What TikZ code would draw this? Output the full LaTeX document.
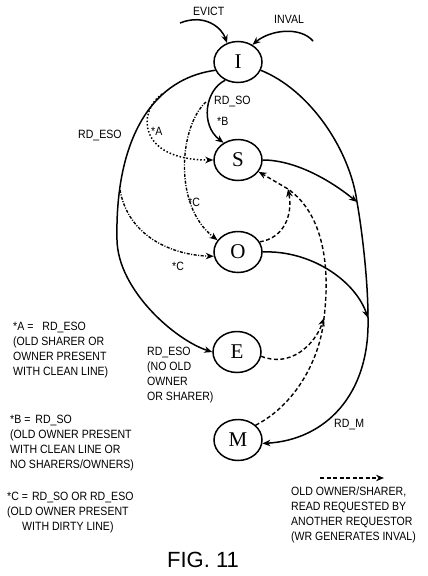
\documentclass[tikz,border=0pt]{standalone}
\usepackage{fontspec}
\usetikzlibrary{shapes, arrows.meta}
\setmainfont{Liberation Sans}
\newfontfamily\lblfont{Liberation Sans}[FakeStretch=0.88]
\newfontfamily\stfont{Liberation Serif}

\begin{document}
\begin{tikzpicture}[
    x=1pt, y=-1pt, >={Stealth[length=8pt, width=6.5pt]},
    cstate/.style={ellipse, draw=black, line width=1.5pt, fill=none,
        minimum width=48pt, minimum height=41pt, inner sep=0pt,
        text centered, text=black, font=\stfont\fontsize{21}{21}\selectfont},
    note/.style={draw=none, fill=none, anchor=north west, align=left, inner sep=0pt,
        text=black, font=\lblfont\fontsize{12}{15}\selectfont},
    move/.style={->, line width=1.5pt},
    old/.style={->, line width=1.4pt, dash pattern=on 4pt off 2.5pt},
    alt/.style={->, line width=1.5pt, dotted},
    dirty/.style={->, line width=1.4pt, dash pattern=on 3pt off 1.5pt on 1pt off 1.5pt}
]
\useasboundingbox (0,0) rectangle (428,576);

\node (StI) [cstate] at (238,62) {I};
\node (StS) [cstate] at (238,160) {S};
\node (StO) [cstate] at (238,252) {O};
\node (StE) [cstate] at (237,352) {E};
\node (StM) [cstate] at (238,440) {M};

\coordinate (Ev) at (180,23);
\coordinate (Inv) at (313,41);
\coordinate (J01) at (357,202);
\coordinate (J02) at (368,318);
\coordinate (J03) at (288,189);
\coordinate (J04) at (324,318);
\coordinate (J05) at (162,94);
\coordinate (J06) at (206,102);
\coordinate (J07) at (120,190);
\coordinate (K01) at (320,478);
\coordinate (K02) at (384,478);

% solid transitions
\draw [move] (Ev) .. controls (205,13) and (222,28) .. (StI.120);
\draw [move] (Inv) .. controls (300,26) and (270,30) .. (StI.50);
\draw [move] (StI.235) .. controls (205,90) and (200,125) .. (StS.130);
\draw [move] (StI.200) .. controls (145,80) and (115,150) .. (117,240)
    .. controls (118,290) and (175,340) .. (StE.west);
\draw [move] (StI.340) .. controls (310,90) and (350,150) .. (J01)
    .. controls (362,230) and (368,280) .. (J02)
    .. controls (370,395) and (325,440) .. (StM.352);
\draw [move] (StS.east) .. controls (295,160) and (330,180) .. (J01);
\draw [move] (StO.east) .. controls (310,250) and (355,280) .. (J02);

% old owner / sharer
\draw [old] (StM.40) .. controls (295,405) and (320,360) .. (J04)
    .. controls (330,270) and (325,215) .. (J03)
    .. controls (275,181) .. (StS.-30);
\draw [old] (StO.25) .. controls (284,238) and (293,215) .. (J03);
\draw [old] (StE.-10) .. controls (290,368) and (315,345) .. (J04);

% *A and *C
\draw [alt] (J05) .. controls (137,112) and (138,160) .. (StS.west);
\draw [dirty] (J06) .. controls (180,125) and (172,205) .. (StO.150);
\draw [dirty] (J07) .. controls (128,235) and (170,255) .. (StO.190);

\draw [old] (K01) -- (K02);

\node (T01) [note] at (193,7) {EVICT};
\node (T02) [note] at (274,15) {INVAL};
\node (T03) [note] at (214,96) {RD\_SO};
\node (T04) [note] at (217,117) {*B};
\node (T05) [note] at (78,130) {RD\_ESO};
\node (T06) [note] at (151,127) {*A};
\node (T07) [note] at (188,198) {*C};
\node (T08) [note] at (172,262) {*C};
\node (T09) [note] at (147,347) {RD\_ESO\\(NO OLD\\OWNER\\OR SHARER)};
\node (T10) [note] at (334,419) {RD\_M};
\node (T11) [note] at (13,322) {*A =\hspace{9pt}RD\_ESO\\(OLD SHARER OR\\OWNER PRESENT\\WITH CLEAN LINE)};
\node (T12) [note] at (10,415) {*B =\hspace{5pt}RD\_SO\\(OLD OWNER PRESENT\\WITH CLEAN LINE OR\\NO SHARERS/OWNERS)};
\node (T13) [note] at (7,492) {*C =\hspace{4pt}RD\_SO OR RD\_ESO\\(OLD OWNER PRESENT\\\hspace{15pt}WITH DIRTY LINE)};
\node (T14) [note] at (291,487) {OLD OWNER/SHARER,\\READ REQUESTED BY\\ANOTHER REQUESTOR\\(WR GENERATES INVAL)};
\node (Fig) [font=\fontsize{22}{22}\selectfont] at (203,560) {FIG. 11};

\end{tikzpicture}
\end{document}
